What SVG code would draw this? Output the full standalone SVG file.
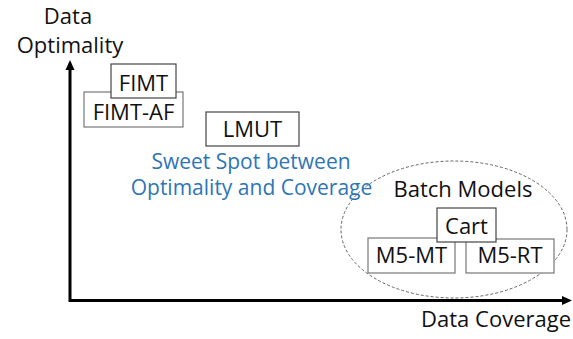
<svg xmlns="http://www.w3.org/2000/svg" width="573" height="339" viewBox="0 0 573 339">
<defs>
<style>
text{font-family:"Open Sans","Noto Sans","Liberation Sans",sans-serif;fill:#111;text-anchor:middle}
.lbl{font-size:22px}
.blue{font-size:21px;fill:#2e75b6}
.box{fill:#fff;stroke:#444;stroke-width:1.2}
.box2{fill:#fff;stroke:#777;stroke-width:1.2}
.axis{fill:none;stroke:#000;stroke-width:3}
.grp{fill:none;stroke:#666;stroke-width:1;stroke-dasharray:3 2}
</style>
<marker id="ah" markerUnits="userSpaceOnUse" markerWidth="10" markerHeight="10" refX="3" refY="5" orient="auto-start-reverse" viewBox="0 0 10 10">
<path d="M0,0.5 L10,5 L0,9.5 z" fill="#000"/>
</marker>
</defs>
<g id="connectors">
<path class="axis" d="M70,67 L70,300.5 L565,300.5" marker-start="url(#ah)" marker-end="url(#ah)"/>
</g>
<g id="axis-y-label">
<text class="lbl" x="68" y="24">Data</text>
<text class="lbl" x="70" y="53">Optimality</text>
</g>
<g id="axis-x-label">
<text class="lbl" x="571" y="327" style="text-anchor:end">Data Coverage</text>
</g>
<g id="batch-models">
<ellipse class="grp" cx="454" cy="229.5" rx="113" ry="68.5"/>
<text class="lbl" x="463" y="197">Batch Models</text>
</g>
<g id="sweet-spot">
<text class="blue" x="251" y="169">Sweet Spot between</text>
<text class="blue" x="251.5" y="195">Optimality and Coverage</text>
</g>
<g id="fimt-af">
<rect class="box2" x="84" y="92" width="99" height="35"/>
<text class="lbl" x="133.5" y="120">FIMT-AF</text>
</g>
<g id="fimt">
<rect class="box" x="111" y="64" width="65" height="34"/>
<text class="lbl" x="143.5" y="91">FIMT</text>
</g>
<g id="lmut">
<rect class="box" x="206" y="112" width="93" height="34"/>
<text class="lbl" x="252.5" y="137">LMUT</text>
</g>
<g id="m5-mt">
<rect class="box2" x="368" y="238" width="87" height="35"/>
<text class="lbl" x="411.5" y="263">M5-MT</text>
</g>
<g id="m5-rt">
<rect class="box2" x="466" y="239" width="88" height="34"/>
<text class="lbl" x="510" y="263">M5-RT</text>
</g>
<g id="cart">
<rect class="box" x="437" y="208" width="59" height="34"/>
<text class="lbl" x="466.5" y="234">Cart</text>
</g>
</svg>
